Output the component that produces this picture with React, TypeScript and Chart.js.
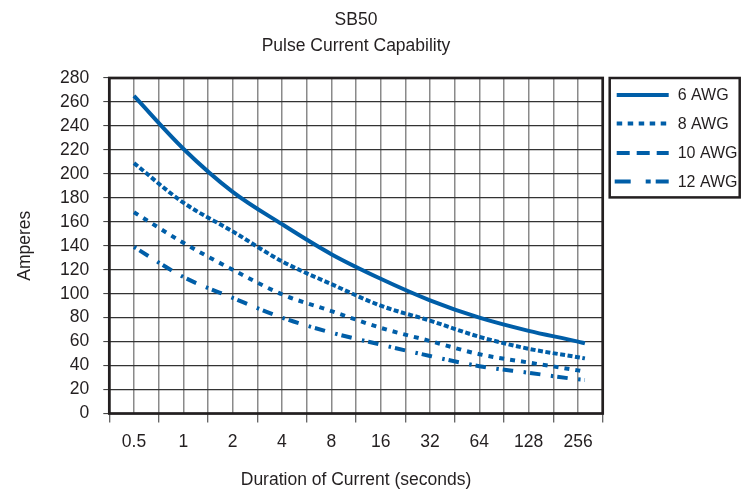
import React, { useEffect, useRef } from 'react';
import { Chart, registerables } from 'chart.js';

Chart.register(...registerables);

const TITLE_LINES = ['SB50', 'Pulse Current Capability'];
const X_TITLE = 'Duration of Current (seconds)';
const Y_TITLE = 'Amperes';
const X_LABELS = ['0.5', '1', '2', '4', '8', '16', '32', '64', '128', '256'];
const DURATIONS = [0.5, 1, 2, 4, 8, 16, 32, 64, 128, 256, 282];
const SERIES_LABELS = ['6 AWG', '8 AWG', '10 AWG', '12 AWG'];
const AWG6 = [265, 221, 185, 158, 133, 112.5, 94.5, 80, 69, 60, 58.5];
const AWG8 = [209, 176, 152, 127, 108, 90, 77.5, 64, 54, 47, 46];
const AWG10 = [168, 142.5, 120, 99.5, 85.5, 71.5, 60.5, 49.5, 42.5, 36, 35];
const AWG12 = [139, 114, 96.5, 80, 67.5, 57.5, 48, 39.5, 34, 28.5, 28];
const Y_MIN = 0;
const Y_MAX = 280;
const Y_STEP = 20;

const BLUE = '#005ea8';
const INK = '#231f20';
const FONT_FAMILY = "'Liberation Sans', Arial, Helvetica, sans-serif";
const FONT_SIZE = 17.5;

const X_MIN = parseFloat(X_LABELS[0]) / Math.SQRT2;
const X_MAX = parseFloat(X_LABELS[X_LABELS.length - 1]) * Math.SQRT2;
const X_TICKS: number[] = [];
X_LABELS.forEach((l) => {
  const v = parseFloat(l);
  X_TICKS.push(v / Math.SQRT2);
  X_TICKS.push(v);
});
X_TICKS.push(X_MAX);

const PLOT_DASHES = [[], [5, 2.5], [5, 6], [2.5, 4, 10.5, 10.5]];
const LEGEND_DASHES = [[], [5.5, 5.5], [13, 7], [16, 15, 5, 5]];

const frameAndLegend = {
  id: 'frameAndLegend',
  beforeDatasetsDraw(chart: any) {
    const { ctx, chartArea: a } = chart;
    ctx.save();
    ctx.lineWidth = 2.7;
    ctx.strokeStyle = INK;
    ctx.strokeRect(a.left, a.top, a.right - a.left, a.bottom - a.top);
    ctx.restore();
  },
  afterDraw(chart: any) {
    const { ctx, chartArea: a } = chart;
    const bx = a.right + 7;
    const by = a.top;
    const bw = 130;
    const bh = 119.4;
    ctx.save();
    ctx.lineWidth = 2.5;
    ctx.strokeStyle = INK;
    ctx.strokeRect(bx, by, bw, bh);
    const rows = [17, 45.5, 75, 103.5];
    chart.data.datasets.forEach((ds: any, i: number) => {
      const y = by + rows[i];
      ctx.beginPath();
      ctx.setLineDash(LEGEND_DASHES[i]);
      ctx.lineWidth = 4;
      ctx.strokeStyle = ds.borderColor;
      const x0 = i === 3 ? bx + 5 : bx + 7;
      ctx.moveTo(x0, y);
      ctx.lineTo(bx + 59, y);
      ctx.stroke();
      ctx.setLineDash([]);
      ctx.fillStyle = INK;
      ctx.font = `16px ${FONT_FAMILY}`;
      ctx.textAlign = 'left';
      ctx.textBaseline = 'middle';
      ctx.fillText(ds.label, bx + 68, y + 1);
    });
    ctx.restore();
  },
};

export default function App() {
  const ref = useRef<HTMLCanvasElement | null>(null);

  useEffect(() => {
    if (!ref.current) return;
    const font = { family: FONT_FAMILY, size: FONT_SIZE, weight: 'normal' as any };
    const series = [AWG6, AWG8, AWG10, AWG12];
    const chart = new Chart(ref.current, {
      type: 'line',
      data: {
        datasets: series.map((vals, i) => ({
          label: SERIES_LABELS[i],
          data: vals.map((v, j) => ({ x: DURATIONS[j], y: v })),
          borderColor: BLUE,
          backgroundColor: BLUE,
          borderWidth: 4,
          borderDash: PLOT_DASHES[i],
          pointRadius: 0,
          fill: false,
          cubicInterpolationMode: 'monotone' as const,
        })),
      },
      options: {
        animation: false,
        responsive: false,
        layout: { padding: { left: 0, right: 145.3, top: 0, bottom: 0 } },
        plugins: {
          legend: { display: false },
          tooltip: { enabled: false },
          title: {
            display: true,
            text: TITLE_LINES,
            fullSize: false,
            color: INK,
            font: { family: FONT_FAMILY, size: FONT_SIZE, weight: 'normal' as any, lineHeight: 26 / FONT_SIZE },
            padding: { top: 7, bottom: 19 },
          },
        },
        scales: {
          x: {
            type: 'logarithmic',
            min: X_MIN,
            max: X_MAX,
            bounds: 'data',
            afterBuildTicks: (s: any) => {
              s.ticks = X_TICKS.map((v) => ({ value: v }));
            },
            afterFit: (s: any) => {
              s.height = 77.5;
            },
            ticks: {
              autoSkip: false,
              maxRotation: 0,
              minRotation: 0,
              color: INK,
              font,
              padding: 9,
              callback: (_v: any, idx: number) => (idx % 2 === 1 ? X_LABELS[(idx - 1) / 2] : ''),
            },
            grid: {
              color: '#8a8a8a',
              lineWidth: 1.5,
              tickLength: 9,
              tickWidth: 1,
              tickColor: (c: any) => (c.index % 2 === 0 ? '#333' : 'rgba(0,0,0,0)'),
            },
            border: { display: false },
            title: { display: true, text: X_TITLE, color: INK, font, padding: { top: 6, bottom: 0 } },
          },
          y: {
            type: 'linear',
            min: Y_MIN,
            max: Y_MAX,
            afterFit: (s: any) => {
              s.width = 109.3;
            },
            ticks: {
              stepSize: Y_STEP,
              autoSkip: false,
              maxTicksLimit: 30,
              color: INK,
              font: { ...font, lineHeight: 1 },
              padding: 14,
            },
            grid: { color: '#333', lineWidth: 1.2, tickLength: 6, tickWidth: 1, tickColor: '#333' },
            border: { display: false },
            title: { display: true, text: Y_TITLE, color: INK, font, padding: { top: 15, bottom: 0 } },
          },
        },
      },
      plugins: [frameAndLegend],
    } as any);
    return () => chart.destroy();
  }, []);

  return (
    <div style={{ position: 'fixed', left: 0, top: 0, width: 748, height: 491, background: '#fff' }}>
      <canvas ref={ref} width={748} height={491} style={{ display: 'block' }} />
    </div>
  );
}
